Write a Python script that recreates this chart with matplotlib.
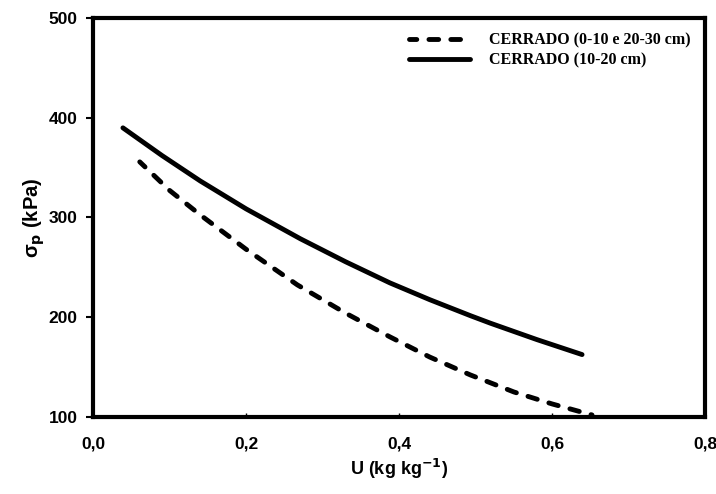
import numpy as np
import matplotlib
matplotlib.use("Agg")
from matplotlib import pyplot as plt

# moisture (kg/kg) vs preconsolidation pressure (kPa)
u_solid = [0.039, 0.09, 0.14, 0.2, 0.271, 0.33, 0.388, 0.44, 0.493, 0.519, 0.58, 0.639]
sp_solid = [389.7, 362, 336.5, 308.5, 278.5, 255.5, 234.3, 217.5, 201.5, 194, 177.5, 162.5]

u_dash = [0.061, 0.1, 0.14, 0.2, 0.267, 0.33, 0.388, 0.44, 0.493, 0.55, 0.6, 0.652]
sp_dash = [355.6, 327, 302.5, 268, 232.3, 204, 180.2, 160, 142.1, 125, 113, 102]

labels = ["CERRADO (0-10 e 20-30 cm)", "CERRADO (10-20 cm)"]
xticks = [0.0, 0.2, 0.4, 0.6, 0.8]
yticks = [100, 200, 300, 400, 500]

plt.rcParams['font.family'] = ['Liberation Sans', 'DejaVu Sans']

fig = plt.figure(figsize=(7.16, 4.94), dpi=100)
ax = fig.add_axes([0.130, 0.156, 0.855, 0.808])

ax.plot(u_dash, sp_dash, color='black', lw=3.5, ls=(0.5, (2.0, 2.5)),
        dash_capstyle='round', label=labels[0])
ax.plot(u_solid, sp_solid, color='black', lw=3.5, solid_capstyle='round',
        solid_joinstyle='round', label=labels[1])

ax.set_xlim(0, 0.8)
ax.set_ylim(100, 500)
ax.set_xticks(xticks)
ax.set_yticks(yticks)
ax.set_xticklabels([f"{t:.1f}".replace('.', ',') for t in xticks], fontsize=12.5, fontweight='bold')
ax.set_yticklabels([str(t) for t in yticks], fontsize=12.5, fontweight='bold')
ax.tick_params(axis='y', direction='out', length=5, width=1.5, pad=6)
ax.tick_params(axis='x', direction='in', length=3, width=1, pad=14)
for s in ax.spines.values():
    s.set_linewidth(3)

ax.set_xlabel("U (kg kg$^{\\mathbf{-1}}$)", fontsize=13, fontweight='bold', labelpad=4)
ax.set_ylabel("σ$_\\mathbf{p}$ (kPa)", fontsize=14.5, fontweight='bold', labelpad=1)

leg = ax.legend(loc='upper right', frameon=False, handlelength=3.8, borderaxespad=0.5,
                prop={'family': 'Liberation Serif', 'weight': 'bold', 'size': 11.5},
                labelspacing=0.25, handletextpad=1.2)

fig.savefig("out.png", dpi=100)
